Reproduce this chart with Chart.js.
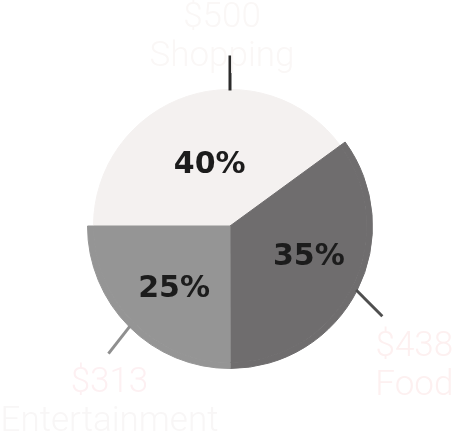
<!DOCTYPE html>
<html>
<head>
<meta charset="utf-8">
<script src="https://cdn.jsdelivr.net/npm/chart.js@4/dist/chart.umd.min.js"></script>
<style>
  html, body { margin: 0; padding: 0; background: #ffffff; }
  #wrap { width: 458px; height: 434px; }
</style>
</head>
<body>
<div id="wrap"><canvas id="chart"></canvas></div>
<script>
// values
const categories = ['Shopping', 'Food', 'Entertainment'];
const amounts = [500, 438, 313];
const amountLabels = ['$500', '$438', '$313'];
const percentLabels = ['40%', '35%', '25%'];

const sliceColors = ['#f4f1f0', '#6f6d6e', '#959595'];
const rimColors = ['rgba(0,0,0,0)', '#6f6d6e', '#959595'];
const leaderColors = ['#2b2b2b', '#4f4f4f', '#8f8f8f'];
const amountColors = ['#faf7f6', '#fdf0f0', '#fdf0f2'];
const nameColors = ['#faf7f6', '#fdf0f0', '#f8f6f6'];

// leader lines + labels drawn on top of the pie
const calloutPlugin = {
    id: 'callouts',
    afterDatasetsDraw(chart, args, opts) {
        const ctx = chart.ctx;
        const inner = chart.getDatasetMeta(1).data;
        const rim = chart.getDatasetMeta(0).data;
        ctx.save();
        inner.forEach((arc, i) => {
            const p = arc.getProps(['x', 'y', 'startAngle', 'endAngle', 'outerRadius'], true);
            const mid = (p.startAngle + p.endAngle) / 2;
            const sliceR = i === 0 ? p.outerRadius : rim[i].getProps(['outerRadius'], true).outerRadius;

            // percentage inside the slice
            const pr = p.outerRadius * opts.pctRadius[i];
            const nudge = opts.pctNudge[i];
            ctx.fillStyle = '#1c1c1c';
            ctx.font = 'bold 30px "DejaVu Sans"';
            ctx.textAlign = 'center';
            ctx.textBaseline = 'middle';
            ctx.fillText(percentLabels[i], p.x + Math.cos(mid) * pr + nudge[0], p.y + Math.sin(mid) * pr + nudge[1]);

            // leader line
            const cfg = opts.leaders[i];
            const at = cfg.at != null ? cfg.at * Math.PI / 180 : mid;
            const dir = cfg.dir * Math.PI / 180;
            const sx = p.x + Math.cos(at) * (sliceR - 1);
            const sy = p.y + Math.sin(at) * (sliceR - 1);
            const ex = sx + Math.cos(dir) * cfg.len;
            const ey = sy + Math.sin(dir) * cfg.len;
            ctx.strokeStyle = leaderColors[i];
            ctx.lineWidth = 3;
            ctx.beginPath();
            ctx.moveTo(sx, sy);
            ctx.lineTo(ex, ey);
            ctx.stroke();

            // amount + category
            ctx.font = '300 35px Roboto';
            const tx = ex + cfg.dx;
            const ty = ey + cfg.dy;
            ctx.fillStyle = amountColors[i];
            ctx.fillText(amountLabels[i], tx, ty);
            ctx.fillStyle = nameColors[i];
            ctx.fillText(categories[i], tx, ty + 39);
        });
        ctx.restore();
    }
};

new Chart(document.getElementById('chart'), {
    type: 'pie',
    data: {
        labels: categories,
        datasets: [{
            data: amounts,
            backgroundColor: rimColors,
            borderColor: rimColors,
            borderWidth: 1,
            weight: 6
        }, {
            data: amounts,
            backgroundColor: sliceColors,
            borderColor: sliceColors,
            borderWidth: 1,
            weight: 137
        }]
    },
    options: {
        responsive: true,
        maintainAspectRatio: false,
        animation: false,
        rotation: -90,
        layout: {
            padding: { left: 87, right: 85, top: 83, bottom: 65 }
        },
        plugins: {
            legend: { display: false },
            tooltip: { enabled: false },
            callouts: {
                pctRadius: [0.48, 0.59, 0.59],
                pctNudge: [[0, 2], [7, -5], [1, 6]],
                leaders: [
                    { at: -90, dir: -90, len: 35, dx: -8, dy: -37 },
                    { at: null, dir: 45, len: 37, dx: 32, dy: 31 },
                    { at: null, dir: 128, len: 35, dx: 1, dy: 30 }
                ]
            }
        }
    },
    plugins: [calloutPlugin]
});
</script>
</body>
</html>
